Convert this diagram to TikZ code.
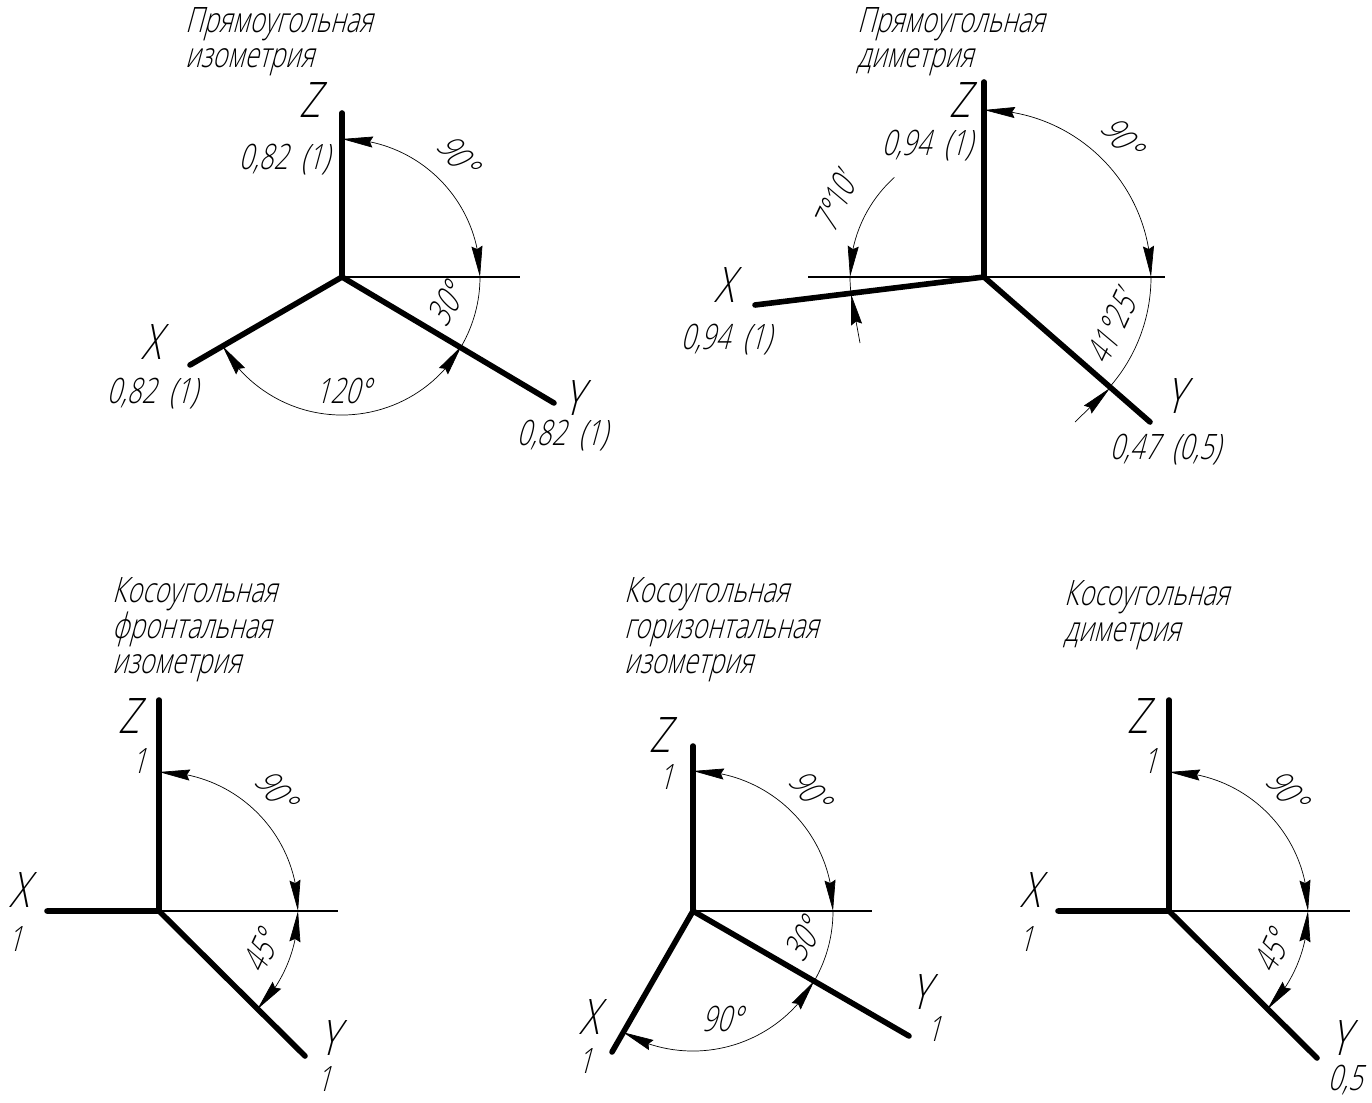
\documentclass[tikz,border=0pt]{standalone}
\usepackage{fontspec}
\setmainfont[FakeSlant=0.27,FakeStretch=0.73]{Open Sans Light}
\usetikzlibrary{arrows.meta,bending}
\tikzset{
  axis/.style={line width=5.6pt,line cap=round},
  base/.style={line width=2.5pt},
  dim/.style={line width=0.7pt},
  tip/.tip={Stealth[length=31pt,width=11pt,inset=3pt]},
  title/.style={anchor=base west,inner sep=0pt,font=\fontsize{35}{35}\selectfont},
  lbl/.style={inner sep=0pt,font=\fontsize{35}{35}\selectfont},
  axl/.style={inner sep=0pt,font=\fontsize{49}{49}\selectfont},
}
\newcommand{\wsp}{\hspace{13pt}}
\begin{document}
\begin{tikzpicture}[x=1pt,y=1pt]
\useasboundingbox (0,-1102) rectangle (1372,0);
% ---------- 1
\coordinate (O1) at (342,-277);
\coordinate (Z1) at (342,-113);
\coordinate (X1) at (190,-365);
\coordinate (Y1) at (554,-403);
\coordinate (H1) at (520,-277);
\draw[axis] (X1) -- (O1) -- (Y1);
\draw[axis] (O1) -- (Z1);
\draw[base] (O1) -- (H1);
\draw[dim,{tip}-{tip}] (O1) ++(90:138) arc[start angle=90,end angle=0,radius=138];
\draw[dim] (O1) ++(0:138) arc[start angle=0,end angle=-30,radius=138];
\draw[dim,{tip}-{tip}] (O1) ++(-30:138) arc[start angle=-30,end angle=-150,radius=138];
\node[title] (t1a) at (185,-33) {Прямоугольная};
\node[title] (t1b) at (185,-68) {изометрия};
\node[axl] (lz1) at (310,-100) {Z};
\node[axl] (lx1) at (151,-342) {X};
\node[axl] (ly1) at (573,-398) {Y};
\node[lbl] (sz1) at (284,-160) {0,82\wsp(1)};
\node[lbl] (sx1) at (152,-394) {0,82\wsp(1)};
\node[lbl] (sy1) at (562,-436) {0,82\wsp(1)};
\node[lbl,rotate=-50] (a1a) at (458,-155) {90°};
\node[lbl,rotate=60] (a1b) at (446,-305) {30°};
\node[lbl] (a1c) at (343,-391) {120°};
% ---------- 2
\coordinate (O2) at (984,-277);
\coordinate (Z2) at (984,-82);
\coordinate (X2) at (755,-305);
\coordinate (Y2) at (1150,-422);
\coordinate (H2a) at (808,-277);
\coordinate (H2b) at (1165,-277);
\coordinate (T2a) at (860,-343);
\coordinate (T2b) at (1075,-422);
\coordinate (P2a) at (851,-294);
\coordinate (P2b) at (1110,-388);
\draw[axis] (X2) -- (O2) -- (Y2);
\draw[axis] (O2) -- (Z2);
\draw[base] (H2a) -- (H2b);
\draw[dim,{tip}-{tip}] (O2) ++(90:167) arc[start angle=90,end angle=0,radius=167];
\draw[dim] (O2) ++(0:167) arc[start angle=0,end angle=-41.4,radius=167];
\draw[dim,-{tip}] (O2) ++(132:134) arc[start angle=132,end angle=180,radius=134];
\draw[dim] (O2) ++(180:134) arc[start angle=180,end angle=187,radius=134];
\draw[dim,-{tip}] (T2a) -- (P2a);
\draw[dim,-{tip}] (T2b) -- (P2b);
\node[title] (t2a) at (857,-33) {Прямоугольная};
\node[title] (t2b) at (857,-68) {диметрия};
\node[axl] (lz2) at (960,-100) {Z};
\node[axl] (lx2) at (724,-285) {X};
\node[axl] (ly2) at (1175,-396) {Y};
\node[lbl] (sz2) at (927,-146) {0,94\wsp(1)};
\node[lbl] (sx2) at (726,-340) {0,94\wsp(1)};
\node[lbl] (sy2) at (1165,-450) {0,47\wsp(0,5)};
\node[lbl,rotate=-50] (a2a) at (1122,-137) {90°};
\node[lbl,rotate=65] (a2b) at (835,-203) {7°10'};
\node[lbl,rotate=65] (a2c) at (1112,-328) {41°25'};
% ---------- 3
\coordinate (O3) at (159,-911);
\coordinate (Z3) at (159,-700);
\coordinate (X3) at (47,-911);
\coordinate (Y3) at (305,-1056);
\coordinate (H3) at (338,-911);
\draw[axis] (X3) -- (O3) -- (Y3);
\draw[axis] (O3) -- (Z3);
\draw[base] (O3) -- (H3);
\draw[dim,{tip}-{tip}] (O3) ++(90:139) arc[start angle=90,end angle=0,radius=139];
\draw[dim,{tip}-{tip}] (O3) ++(0:139) arc[start angle=0,end angle=-45,radius=139];
\node[title] (t3a) at (112,-602) {Косоугольная};
\node[title] (t3b) at (112,-638) {фронтальная};
\node[title] (t3c) at (112,-673) {изометрия};
\node[axl] (lz3) at (129,-716) {Z};
\node[axl] (lx3) at (19,-890) {X};
\node[axl] (ly3) at (329,-1038) {Y};
\node[lbl] (sz3) at (139,-761) {1};
\node[lbl] (sx3) at (15,-939) {1};
\node[lbl] (sy3) at (324,-1079) {1};
\node[lbl,rotate=-50] (a3a) at (276,-790) {90°};
\node[lbl,rotate=65] (a3b) at (261,-952) {45°};
% ---------- 4
\coordinate (O4) at (693,-911);
\coordinate (Z4) at (693,-746);
\coordinate (X4) at (612,-1052);
\coordinate (Y4) at (909,-1036);
\coordinate (H4) at (872,-911);
\draw[axis] (X4) -- (O4) -- (Y4);
\draw[axis] (O4) -- (Z4);
\draw[base] (O4) -- (H4);
\draw[dim,{tip}-{tip}] (O4) ++(90:140) arc[start angle=90,end angle=0,radius=140];
\draw[dim] (O4) ++(0:140) arc[start angle=0,end angle=-30,radius=140];
\draw[dim,{tip}-{tip}] (O4) ++(-30:140) arc[start angle=-30,end angle=-120,radius=140];
\node[title] (t4a) at (624,-602) {Косоугольная};
\node[title] (t4b) at (624,-638) {горизонтальная};
\node[title] (t4c) at (624,-673) {изометрия};
\node[axl] (lz4) at (660,-735) {Z};
\node[axl] (lx4) at (589,-1017) {X};
\node[axl] (ly4) at (920,-992) {Y};
\node[lbl] (sz4) at (666,-777) {1};
\node[lbl] (sx4) at (585,-1061) {1};
\node[lbl] (sy4) at (934,-1029) {1};
\node[lbl,rotate=-50] (a4a) at (810,-790) {90°};
\node[lbl,rotate=60] (a4b) at (803,-940) {30°};
\node[lbl] (a4c) at (722,-1019) {90°};
% ---------- 5
\coordinate (O5) at (1169,-911);
\coordinate (Z5) at (1169,-700);
\coordinate (X5) at (1058,-911);
\coordinate (Y5) at (1317,-1058);
\coordinate (H5) at (1350,-911);
\draw[axis] (X5) -- (O5) -- (Y5);
\draw[axis] (O5) -- (Z5);
\draw[base] (O5) -- (H5);
\draw[dim,{tip}-{tip}] (O5) ++(90:139) arc[start angle=90,end angle=0,radius=139];
\draw[dim,{tip}-{tip}] (O5) ++(0:139) arc[start angle=0,end angle=-45,radius=139];
\node[title] (t5a) at (1064,-605) {Косоугольная};
\node[title] (t5b) at (1064,-641) {диметрия};
\node[axl] (lz5) at (1138,-716) {Z};
\node[axl] (lx5) at (1030,-890) {X};
\node[axl] (ly5) at (1340,-1038) {Y};
\node[lbl] (sz5) at (1150,-761) {1};
\node[lbl] (sx5) at (1026,-939) {1};
\node[lbl] (sy5) at (1345,-1080) {0,5};
\node[lbl,rotate=-50] (a5a) at (1287,-790) {90°};
\node[lbl,rotate=65] (a5b) at (1272,-952) {45°};
\end{tikzpicture}
\end{document}
